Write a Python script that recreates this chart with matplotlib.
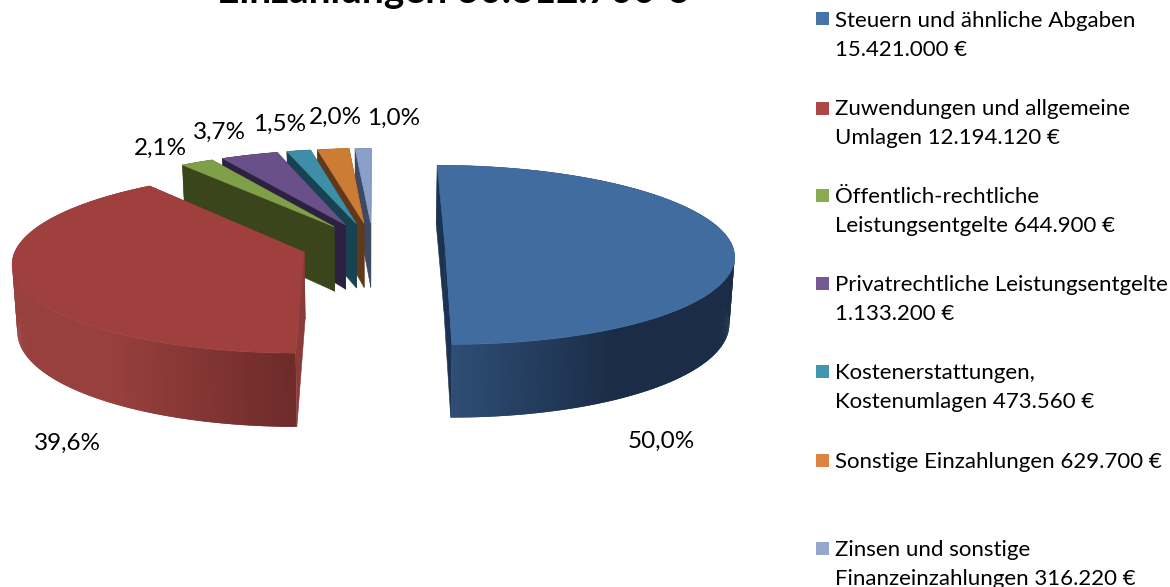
#!/usr/bin/env python
# -*- coding: utf-8 -*-
"""Einzahlungen: exploded 3D pie, drawn by hand because matplotlib has no perspective pie."""

import numpy as np
import matplotlib
matplotlib.use('Agg')
import matplotlib.pyplot as plt
from matplotlib.colors import to_rgb
from matplotlib.patches import Polygon, Rectangle

title = 'Einzahlungen 30.812.700 €'
values = [15421000, 12194120, 644900, 1133200, 473560, 629700, 316220]
legend_lines = [
    ['Steuern und ähnliche Abgaben', '15.421.000 €'],
    ['Zuwendungen und allgemeine', 'Umlagen 12.194.120 €'],
    ['Öffentlich-rechtliche', 'Leistungsentgelte 644.900 €'],
    ['Privatrechtliche Leistungsentgelte', '1.133.200 €'],
    ['Kostenerstattungen,', 'Kostenumlagen 473.560 €'],
    ['Sonstige Einzahlungen 629.700 €'],
    ['Zinsen und sonstige', 'Finanzeinzahlungen 316.220 €'],
]
legend_colors = ['#4474a8', '#ad4745', '#8caa4f', '#735a93', '#4097ae', '#dc8440', '#94a8cf']
top_colors = ['#416c9f', '#9f403e', '#7fa049', '#6a5088', '#3e8ea8', '#cd7c34', '#8aa0c8']
wall_colors = ['#1b3250', '#8a3a38', '#3a451b', '#2c2140', '#17424f', '#61391a', '#3d4a63']
side_light = ['#2f4e76', '#98403e', '#3a451b', '#2c2140', '#17424f', '#61391a', '#3d4a63']
side_dark = ['#1a2c46', '#6e2b2a', '#3a451b', '#2c2140', '#17424f', '#61391a', '#3d4a63']
# x, y of the percentage labels
label_pos = [(661, 441), (67, 443), (160, 148), (219, 132), (280, 124), (335, 117), (394, 118)]
legend_box_y = [12, 102, 189, 277, 365, 454, 542]
legend_base_y = [27, 115, 203, 291, 379, 468, 556]

# perspective set-up in pixels
CX, CY = 373, 245
RADIUS = 287
EXPLODE = 72
TILT = 0.312
PERSP = 0.00038
DEPTH = 66


def project(u, v, z=0):
    s = 1 + PERSP * v
    return CX + u * s * (1 - 0.00022 * z), CY + TILT * v * s + z * s


def rim(centre, theta, z=0):
    return project(centre[0] + RADIUS * np.sin(theta), centre[1] - RADIUS * np.cos(theta), z)


plt.rcParams['font.family'] = ['Lato', 'DejaVu Sans']
fig = plt.figure(figsize=(11.7, 5.87), dpi=100)
ax = fig.add_axes([0, 0, 1, 1])
ax.set_xlim(0, 1170)
ax.set_ylim(587, 0)
ax.axis('off')

total = sum(values)
edges = np.cumsum([0] + values) / total * 2 * np.pi

# back to front: the small slices first, right to left, then the two big ones
order = [6, 5, 4, 3, 2, 1, 0]
for zorder, i in enumerate(order):
    start, end = edges[i], edges[i + 1]
    mid = (start + end) / 2
    centre = (EXPLODE * np.sin(mid), -EXPLODE * np.cos(mid))
    base = 10 * (zorder + 1)

    # the wall on the far side of the slice
    end_wall = [project(*centre), rim(centre, end), rim(centre, end, DEPTH), project(*centre, DEPTH)]
    ax.add_patch(Polygon(end_wall, fc=wall_colors[i], ec=wall_colors[i], lw=0.4, zorder=base))

    # outer rim with a left to right shade, each quad runs under the next to hide seams
    thetas = np.linspace(start, end, 2 * max(int(np.degrees(end - start)), 2) + 1)
    xs = [rim(centre, t)[0] for t in thetas]
    light, dark = np.array(to_rgb(side_light[i])), np.array(to_rgb(side_dark[i]))
    x_from = min(xs) if i != 0 else 452
    x_to = max(xs) if i != 0 else 620
    if i == 1:
        x_from, x_to = 110, 293
    for n in range(len(thetas) - 1):
        a, b = thetas[n], thetas[min(n + 2, len(thetas) - 1)]
        t = np.clip((rim(centre, a)[0] - x_from) / max(x_to - x_from, 1), 0, 1)
        col = light + (dark - light) * t
        quad = [rim(centre, a), rim(centre, b), rim(centre, b, DEPTH), rim(centre, a, DEPTH)]
        ax.add_patch(Polygon(quad, fc=col, ec='none', zorder=base + 1))

    # the wall on the near side
    start_wall = [project(*centre), rim(centre, start), rim(centre, start, DEPTH), project(*centre, DEPTH)]
    ax.add_patch(Polygon(start_wall, fc=wall_colors[i], ec=wall_colors[i], lw=0.4, zorder=base + 2))

    # top face
    top_thetas = np.linspace(start, end, 120)
    face = [project(*centre)] + [rim(centre, t) for t in top_thetas]
    ax.add_patch(Polygon(face, fc=top_colors[i], ec=top_colors[i], lw=0.4, zorder=base + 3))

    pct = f'{values[i] / total * 100:.1f}%'.replace('.', ',')
    ax.text(label_pos[i][0], label_pos[i][1], pct, fontsize=17.5, color='black',
            ha='center', va='center', zorder=200)

ax.text(452, 3, title, fontsize=28, fontweight='bold', color='black', ha='center',
        va='baseline', zorder=200)

for lines, col, box_y, base_y in zip(legend_lines, legend_colors, legend_box_y, legend_base_y):
    ax.add_patch(Rectangle((816, box_y), 13, 13, fc=col, ec='none', zorder=200))
    for n, line in enumerate(lines):
        ax.text(835, base_y + n * 29, line, fontsize=16, color='black', ha='left',
                va='baseline', zorder=200)

fig.savefig('out.png', dpi=100)
